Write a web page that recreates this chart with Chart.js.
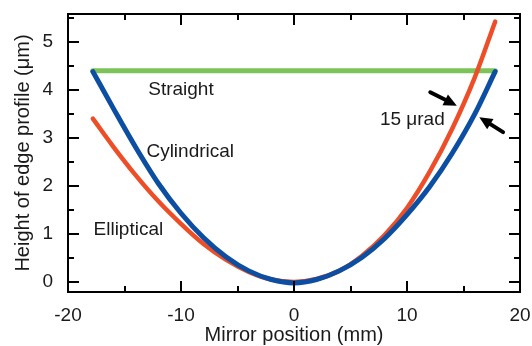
<!DOCTYPE html>
<html><head><meta charset="utf-8">
<script src="https://cdn.jsdelivr.net/npm/chart.js@4.4.0/dist/chart.umd.min.js"></script>
<style>html,body{margin:0;padding:0;background:#fff;}</style>
</head><body>
<canvas id="c" width="532" height="346"></canvas>
<script>
// Mirror position (mm) and height of edge profile (µm)
const cylX = [-17.8, -16, -14, -12, -10, -8, -6, -4, -2, 0, 2, 4, 6, 8, 10, 12, 14, 16, 17.8];
const cylY = [4.38, 3.62, 2.80, 2.05, 1.43, 0.92, 0.52, 0.23, 0.05, -0.02, 0.05, 0.23, 0.51, 0.90, 1.40, 1.98, 2.68, 3.50, 4.38];
const ellX = [-17.8, -16, -14, -12, -10, -8, -6, -4, -2, 0, 2, 4, 6, 8, 10, 12, 14, 16, 17.8];
const ellY = [3.40, 2.82, 2.22, 1.68, 1.21, 0.79, 0.46, 0.21, 0.05, 0.00, 0.06, 0.23, 0.54, 0.97, 1.54, 2.29, 3.19, 4.26, 5.42];
const strX = [-17.8, 17.8];
const strY = [4.4, 4.4];
const xTickLabels = [-20, -10, 0, 10, 20];
const yTickLabels = [0, 1, 2, 3, 4, 5];
const seriesNames = ['Cylindrical', 'Elliptical', 'Straight'];

const FONT = '"Liberation Sans", Arial, Helvetica, sans-serif';
const pts = (xs, ys) => xs.map((x, i) => ({x: x, y: ys[i]}));

const annotations = [
  {text: 'Straight', x: -12.9, y: 4.0},
  {text: 'Cylindrical', x: -13.06, y: 2.71},
  {text: 'Elliptical', x: -17.74, y: 1.08},
  {text: '15 \u03BCrad', x: 7.6, y: 3.375}
];
const arrows = [
  {from: [12.06, 3.95], to: [14.41, 3.67]},
  {from: [18.5, 3.12], to: [16.4, 3.43]}
];

const noPad = s => { s.paddingTop = 0; s.paddingBottom = 0; s.paddingLeft = 0; s.paddingRight = 0; };

const framePlugin = {
  id: 'frame',
  afterDraw(chart) {
    const ctx = chart.ctx, a = chart.chartArea;
    const xs = chart.scales.x, ys = chart.scales.y;
    ctx.save();
    ctx.strokeStyle = '#000';
    ctx.lineWidth = 2;
    ctx.strokeRect(a.left, a.top, a.right - a.left, a.bottom - a.top);
    ctx.beginPath();
    for (let v = -20; v <= 20; v += 5) {
      const p = Math.round(xs.getPixelForValue(v));
      const len = (v % 10 === 0) ? 11 : 6;
      ctx.moveTo(p, a.bottom); ctx.lineTo(p, a.bottom - len);
      ctx.moveTo(p, a.top); ctx.lineTo(p, a.top + len);
    }
    for (let k = 0; k <= 11; k++) {
      const v = k * 0.5;
      const p = Math.round(ys.getPixelForValue(v));
      const len = (k % 2 === 0) ? 11 : 6;
      ctx.moveTo(a.left, p); ctx.lineTo(a.left + len, p);
      ctx.moveTo(a.right, p); ctx.lineTo(a.right - len, p);
    }
    ctx.stroke();
    // annotations
    ctx.fillStyle = '#1a1a1a';
    ctx.font = '19px ' + FONT;
    ctx.textAlign = 'left';
    ctx.textBaseline = 'middle';
    annotations.forEach(t => ctx.fillText(t.text, xs.getPixelForValue(t.x), ys.getPixelForValue(t.y)));
    // arrows
    ctx.fillStyle = '#000';
    ctx.lineCap = 'round';
    arrows.forEach(ar => {
      const x0 = xs.getPixelForValue(ar.from[0]), y0 = ys.getPixelForValue(ar.from[1]);
      const x1 = xs.getPixelForValue(ar.to[0]), y1 = ys.getPixelForValue(ar.to[1]);
      const ang = Math.atan2(y1 - y0, x1 - x0);
      const hl = 13, hw = 6;
      const bx = x1 - hl * Math.cos(ang), by = y1 - hl * Math.sin(ang);
      ctx.lineWidth = 4;
      ctx.beginPath(); ctx.moveTo(x0, y0); ctx.lineTo(bx, by); ctx.stroke();
      ctx.beginPath();
      ctx.moveTo(x1, y1);
      ctx.lineTo(bx + hw * Math.sin(ang), by - hw * Math.cos(ang));
      ctx.lineTo(bx - hw * Math.sin(ang), by + hw * Math.cos(ang));
      ctx.closePath(); ctx.fill();
    });
    ctx.restore();
  }
};

new Chart(document.getElementById('c'), {
  type: 'line',
  data: {
    datasets: [
      {label: seriesNames[0], data: pts(cylX, cylY), borderColor: '#0b4ea2', borderWidth: 5, cubicInterpolationMode: 'monotone'},
      {label: seriesNames[1], data: pts(ellX, ellY), borderColor: '#ee4e27', borderWidth: 4.5, cubicInterpolationMode: 'monotone'},
      {label: seriesNames[2], data: pts(strX, strY), borderColor: '#7cc35a', borderWidth: 5}
    ]
  },
  options: {
    responsive: false,
    animation: false,
    devicePixelRatio: 1,
    layout: {padding: {top: 14, right: 12, left: 0, bottom: 0}},
    plugins: {legend: {display: false}, tooltip: {enabled: false}},
    elements: {point: {radius: 0}, line: {borderCapStyle: 'round', borderJoinStyle: 'round', fill: false}},
    scales: {
      x: {
        type: 'linear', min: -20, max: 20,
        grid: {display: false, drawTicks: false}, border: {display: false},
        afterBuildTicks: s => { s.ticks = xTickLabels.map(v => ({value: v})); },
        afterFit: s => { s.height = 54; noPad(s); },
        ticks: {padding: 12, autoSkip: false, maxRotation: 0, color: '#1a1a1a', font: {family: FONT, size: 19}},
        title: {display: true, text: 'Mirror position (mm)', color: '#1a1a1a', font: {family: FONT, size: 20, lineHeight: 1}, padding: {top: 0, bottom: 1}}
      },
      y: {
        type: 'linear', min: -0.21, max: 5.58,
        grid: {display: false, drawTicks: false}, border: {display: false},
        afterBuildTicks: s => { s.ticks = yTickLabels.map(v => ({value: v})); },
        afterFit: s => { s.width = 68; noPad(s); },
        ticks: {padding: 15, autoSkip: false, color: '#1a1a1a', font: {family: FONT, size: 19}},
        title: {display: true, text: 'Height of edge profile (\u03BCm)', color: '#1a1a1a', font: {family: FONT, size: 20, lineHeight: 1}, padding: {top: 13.5, bottom: 0}}
      }
    }
  },
  plugins: [framePlugin]
});
</script>
</body></html>
